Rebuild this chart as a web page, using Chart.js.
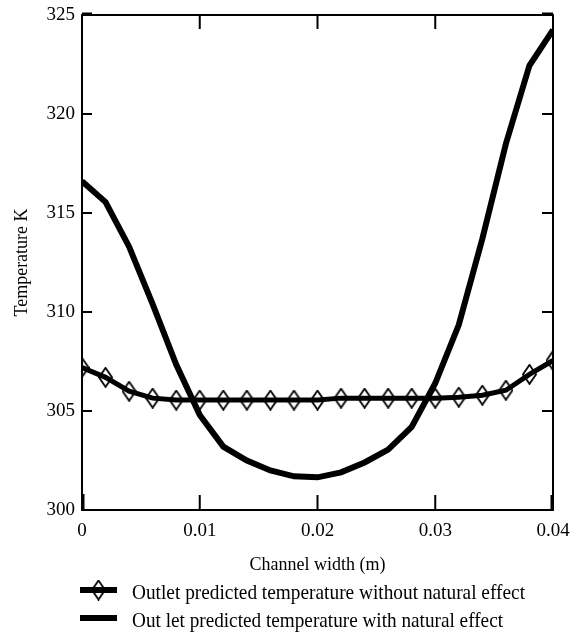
<!DOCTYPE html>
<html>
<head>
<meta charset="utf-8">
<script src="https://cdn.jsdelivr.net/npm/chart.js@4.4.0/dist/chart.umd.min.js"></script>
<style>
  html, body { margin: 0; padding: 0; background: #fff; }
  #wrap { width: 574px; height: 635px; }
</style>
</head>
<body>
<div id="wrap"><canvas id="tempChart" width="574" height="635"></canvas></div>
<script>
// Channel width positions (m)
const widths = [0, 0.002, 0.004, 0.006, 0.008, 0.010, 0.012, 0.014, 0.016, 0.018, 0.020,
                0.022, 0.024, 0.026, 0.028, 0.030, 0.032, 0.034, 0.036, 0.038, 0.040];

// Outlet temperature (K) without natural effect (diamond markers)
const withoutNatural = [307.2, 306.7, 306.0, 305.65, 305.55, 305.55, 305.55, 305.55, 305.55, 305.55, 305.55,
                        305.65, 305.65, 305.65, 305.65, 305.65, 305.7, 305.8, 306.05, 306.85, 307.55];

// Outlet temperature (K) with natural effect
const withNatural = [316.6, 315.55, 313.3, 310.4, 307.35, 304.8, 303.2, 302.5, 302.0, 301.7, 301.65,
                     301.9, 302.4, 303.05, 304.2, 306.4, 309.35, 313.7, 318.5, 322.45, 324.25];

const xTicks = [0, 0.01, 0.02, 0.03, 0.04];
const yTicks = [300, 305, 310, 315, 320, 325];
const legendLabels = [
  'Outlet predicted temperature without natural effect',
  'Out let predicted temperature with natural effect'
];

const FONT = "'Liberation Serif', 'Times New Roman', serif";

// hollow diamond used as marker
function makeDiamond(w, h) {
  const c = document.createElement('canvas');
  c.width = w; c.height = h;
  const g = c.getContext('2d');
  g.strokeStyle = '#000';
  g.lineWidth = 1.8;
  g.beginPath();
  g.moveTo(w / 2, 1);
  g.lineTo(w - 1, h / 2);
  g.lineTo(w / 2, h - 1);
  g.lineTo(1, h / 2);
  g.closePath();
  g.stroke();
  return c;
}
const diamond = makeDiamond(15, 21);

// box round the plot with inward ticks on all four sides
const frameTicks = {
  id: 'frameTicks',
  afterDraw(chart) {
    const { ctx, chartArea: a, scales: { x, y } } = chart;
    ctx.save();
    ctx.strokeStyle = '#000';
    ctx.lineWidth = 2;
    ctx.strokeRect(a.left, a.top, a.right - a.left, a.bottom - a.top);
    ctx.beginPath();
    xTicks.forEach(v => {
      const px = x.getPixelForValue(v);
      ctx.moveTo(px, a.bottom); ctx.lineTo(px, a.bottom - 15);
      ctx.moveTo(px, a.top); ctx.lineTo(px, a.top + 14);
    });
    yTicks.forEach(v => {
      const py = y.getPixelForValue(v);
      ctx.moveTo(a.left, py); ctx.lineTo(a.left + 10, py);
      ctx.moveTo(a.right, py); ctx.lineTo(a.right - 11, py);
    });
    ctx.stroke();

    // heavier end ticks at the corners
    ctx.lineWidth = 3;
    ctx.beginPath();
    const x0 = x.getPixelForValue(xTicks[0]);
    const x1 = x.getPixelForValue(xTicks[xTicks.length - 1]);
    const yTop = y.getPixelForValue(yTicks[yTicks.length - 1]);
    ctx.moveTo(x0 + 1, a.bottom); ctx.lineTo(x0 + 1, a.bottom - 16);
    ctx.moveTo(x1 - 1, a.bottom); ctx.lineTo(x1 - 1, a.bottom - 15);
    ctx.moveTo(a.left, yTop - 1); ctx.lineTo(a.left + 10, yTop - 1);
    ctx.moveTo(a.right, yTop - 1); ctx.lineTo(a.right - 11, yTop - 1);
    ctx.stroke();
    ctx.restore();
  }
};

// legend under the axis title
const bottomLegend = {
  id: 'bottomLegend',
  afterDraw(chart) {
    const { ctx } = chart;
    const rows = [
      { y: 590, text: legendLabels[0], width: 393, marker: true },
      { y: 618, text: legendLabels[1], width: 371, marker: false }
    ];
    ctx.save();
    rows.forEach(r => {
      ctx.strokeStyle = '#000';
      ctx.lineWidth = 6;
      ctx.beginPath();
      ctx.moveTo(80, r.y);
      ctx.lineTo(117, r.y);
      ctx.stroke();
      if (r.marker) ctx.drawImage(diamond, 98.5 - diamond.width / 2, r.y - diamond.height / 2);

      ctx.font = '21px ' + FONT;
      ctx.fillStyle = '#000';
      ctx.textBaseline = 'middle';
      const w = ctx.measureText(r.text).width;
      ctx.save();
      ctx.translate(132, r.y + 3);
      ctx.scale(r.width / w, 1);
      ctx.fillText(r.text, 0, 0);
      ctx.restore();
    });
    ctx.restore();
  }
};

new Chart(document.getElementById('tempChart'), {
  type: 'line',
  data: {
    datasets: [
      {
        label: legendLabels[0],
        data: widths.map((w, i) => ({ x: w, y: withoutNatural[i] })),
        borderColor: '#000',
        borderWidth: 5,
        pointStyle: diamond,
        pointRadius: 8,
        tension: 0,
        fill: false
      },
      {
        label: legendLabels[1],
        data: widths.map((w, i) => ({ x: w, y: withNatural[i] })),
        borderColor: '#000',
        borderWidth: 6,
        pointRadius: 0,
        tension: 0,
        fill: false
      }
    ]
  },
  options: {
    responsive: false,
    animation: false,
    devicePixelRatio: 1,
    layout: { padding: { left: 0, top: 15, right: 21, bottom: 55 } },
    plugins: {
      legend: { display: false },
      tooltip: { enabled: false }
    },
    scales: {
      x: {
        type: 'linear',
        min: 0,
        max: 0.04,
        afterBuildTicks: s => { s.ticks = xTicks.map(v => ({ value: v })); },
        afterFit: s => { s.height = 70; s.paddingLeft = 0; s.paddingRight = 0; },
        grid: { drawOnChartArea: false, drawTicks: false },
        border: { display: false },
        ticks: {
          color: '#000',
          padding: 10,
          font: { family: FONT, size: 19 },
          callback: v => String(v)
        },
        title: {
          display: true,
          text: 'Channel width (m)',
          color: '#000',
          font: { family: FONT, size: 18 },
          padding: { top: 0, bottom: 4 }
        }
      },
      y: {
        min: 300,
        max: 325,
        afterBuildTicks: s => { s.ticks = yTicks.map(v => ({ value: v })); },
        afterFit: s => { s.width = 82; s.paddingTop = 0; s.paddingBottom = 0; },
        grid: { drawOnChartArea: false, drawTicks: false },
        border: { display: false },
        ticks: {
          color: '#000',
          padding: 7,
          font: { family: FONT, size: 19 }
        },
        title: {
          display: true,
          text: 'Temperature K',
          color: '#000',
          font: { family: FONT, size: 18 },
          padding: { top: 11, bottom: 0 }
        }
      }
    }
  },
  plugins: [frameTicks, bottomLegend]
});
</script>
</body>
</html>
